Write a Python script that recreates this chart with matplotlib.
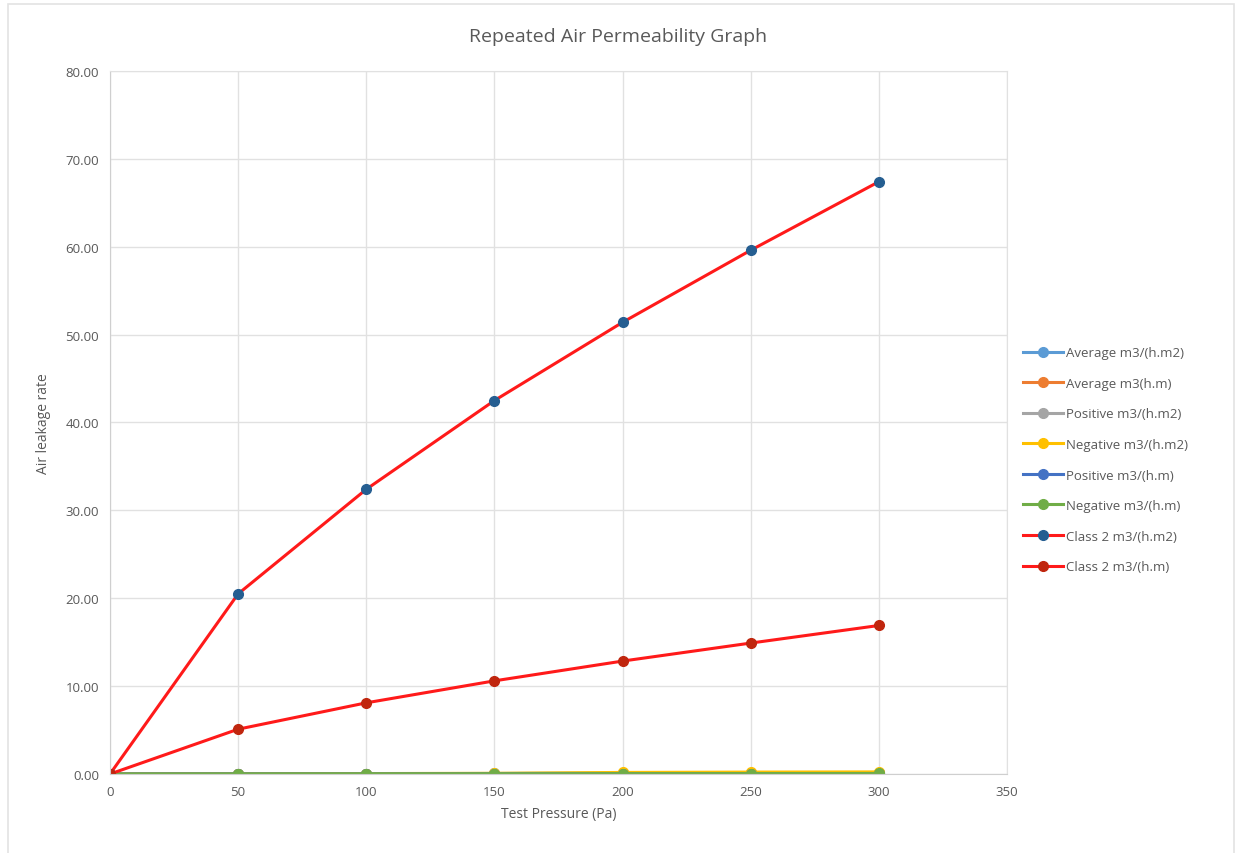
import matplotlib
matplotlib.use("Agg")
import matplotlib.pyplot as plt
from matplotlib.patches import Rectangle

# test pressures (Pa)
pressure = [0, 50, 100, 150, 200, 250, 300]

# measured series (all close to zero)
avg_m2 = [0, 0.02, 0.04, 0.06, 0.10, 0.13, 0.15]
avg_m = [0, 0.01, 0.02, 0.03, 0.05, 0.06, 0.07]
pos_m2 = [0, 0.02, 0.03, 0.05, 0.08, 0.10, 0.12]
neg_m2 = [0, 0.03, 0.05, 0.08, 0.18, 0.22, 0.24]
pos_m = [0, 0.01, 0.01, 0.02, 0.03, 0.04, 0.05]
neg_m = [0, 0.01, 0.02, 0.03, 0.04, 0.05, 0.06]

# class 2 limits
class2_m2 = [0, 20.5, 32.4, 42.5, 51.4, 59.6, 67.4]
class2_m = [0, 5.1, 8.1, 10.6, 12.85, 14.9, 16.9]

series = [
    ("Average m3/(h.m2)", avg_m2, "#5B9BD5", "#5B9BD5"),
    ("Average m3(h.m)", avg_m, "#ED7D31", "#ED7D31"),
    ("Positive m3/(h.m2)", pos_m2, "#A5A5A5", "#A5A5A5"),
    ("Negative m3/(h.m2)", neg_m2, "#FFC000", "#FFC000"),
    ("Positive m3/(h.m)", pos_m, "#4472C4", "#4472C4"),
    ("Negative m3/(h.m)", neg_m, "#70AD47", "#70AD47"),
    ("Class 2 m3/(h.m2)", class2_m2, "#FF1A1A", "#255E91"),
    ("Class 2 m3/(h.m)", class2_m, "#FF1A1A", "#C0260E"),
]

plt.rcParams['font.family'] = ['Open Sans', 'DejaVu Sans']
txt = "#595959"

fig = plt.figure(figsize=(12.36, 8.54), dpi=100)
# light outer chart border
fig.patches.append(Rectangle((0.0065, -0.01), 0.992, 1.004, transform=fig.transFigure,
                             fill=False, edgecolor="#E3E3E3", linewidth=1.2))
ax = fig.add_axes([0.089, 0.0925, 0.7257, 0.8232])

for label, vals, lc, mc in series:
    ax.plot(pressure, vals, color=lc, linewidth=2.2, marker='o', markersize=7,
            markerfacecolor=mc, markeredgecolor=mc, label=label)

ax.set_xlim(0, 350)
ax.set_ylim(0, 80)
ax.set_xticks(range(0, 351, 50))
ax.set_yticks(range(0, 81, 10))
ax.set_yticklabels([f"{v:.2f}" for v in range(0, 81, 10)])
ax.grid(True, color="#E1E1E1", linewidth=1)
ax.set_axisbelow(True)
for s in ax.spines.values():
    s.set_color("#E1E1E1")
ax.spines['left'].set_color("#CFCFCF")
ax.spines['bottom'].set_color("#CFCFCF")
ax.tick_params(length=0, colors=txt, labelsize=9.5, pad=8)

ax.set_xlabel("Test Pressure (Pa)", color=txt, fontsize=10, labelpad=6)
ax.set_ylabel("Air leakage rate", color=txt, fontsize=10, labelpad=10)
fig.text(0.5, 0.957, "Repeated Air Permeability Graph", ha='center', va='center',
         color=txt, fontsize=14)

leg = ax.legend(loc='center left', bbox_to_anchor=(1.005, 0.447), frameon=False,
                fontsize=9.5, labelspacing=1.33, handlelength=3.0, handletextpad=0.2)
for t in leg.get_texts():
    t.set_color(txt)

fig.savefig("out.png", dpi=100)
